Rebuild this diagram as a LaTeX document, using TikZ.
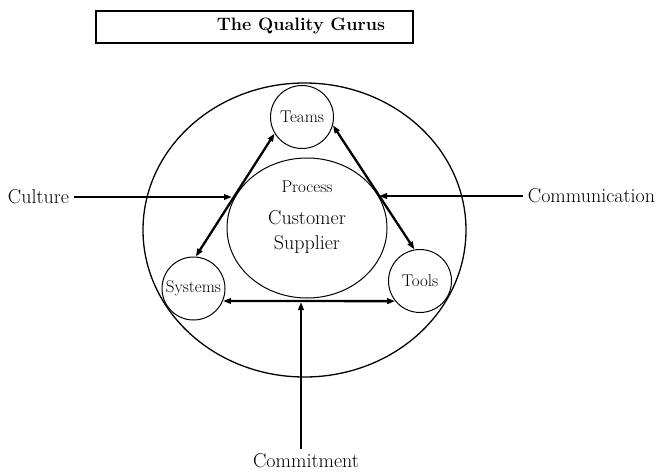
\documentclass[tikz,border=0pt]{standalone}
\usetikzlibrary{arrows.meta,shapes.geometric}

\begin{document}
\begin{tikzpicture}[
  x=1pt, y=-1pt,
  word/.style={inner sep=1pt,outer sep=4pt,font=\fontsize{20}{25}\selectfont},
  ring/.style={draw,circle,line width=1pt,minimum size=63pt,inner sep=0pt,font=\fontsize{17}{20}\selectfont},
  arr/.style={-{Triangle[length=8pt,width=5.5pt]},line width=2.3pt},
  dblarr/.style={{Triangle[length=8pt,width=5.5pt]}-{Triangle[length=8pt,width=5.5pt]},line width=2.3pt}
]
\useasboundingbox (0,0) rectangle (668,473);
% heading
\node[draw,line width=1.5pt,minimum width=317pt,minimum height=32pt,inner sep=0pt] (banner) at (254.5,27) {};
\node[font=\fontsize{18}{22}\selectfont\bfseries] (title) at (301,26) {The Quality Gurus};
% ellipses
\node[draw,ellipse,line width=1.3pt,minimum width=323pt,minimum height=294pt,inner sep=0pt] (outer) at (304.5,230) {};
\node[draw,ellipse,line width=1pt,minimum width=160pt,minimum height=140pt,inner sep=0pt] (core) at (307,228) {};
\node[font=\fontsize{17}{20}\selectfont] (process) at (307,187) {Process};
\node[font=\fontsize{20}{25}\selectfont,align=center] (custsup) at (307,232) {Customer\\Supplier};
% the three circles
\node[ring] (teams) at (302,117) {Teams};
\node[ring] (systems) at (193.5,288.5) {Systems};
\node[ring] (tools) at (420,281) {Tools};
% outside forces
\node[word] (culture) at (38.5,197) {Culture};
\node[word] (comm) at (591.5,196) {Communication};
\node[word] (commit) at (306,461) {Commitment};
\coordinate (cin) at (232,197);
\coordinate (comin) at (379,196);
\coordinate (meet) at (301,302);
% connectors
\draw[dblarr] (teams.211) -- (systems.86);
\draw[dblarr] (teams.-15) -- (tools.100);
\draw[dblarr] (systems.-23) -- (tools.219);
\draw[arr] (culture) -- (cin);
\draw[arr] (comm) -- (comin);
\draw[arr] (commit.north -| meet) -- (meet);
\end{tikzpicture}
\end{document}
